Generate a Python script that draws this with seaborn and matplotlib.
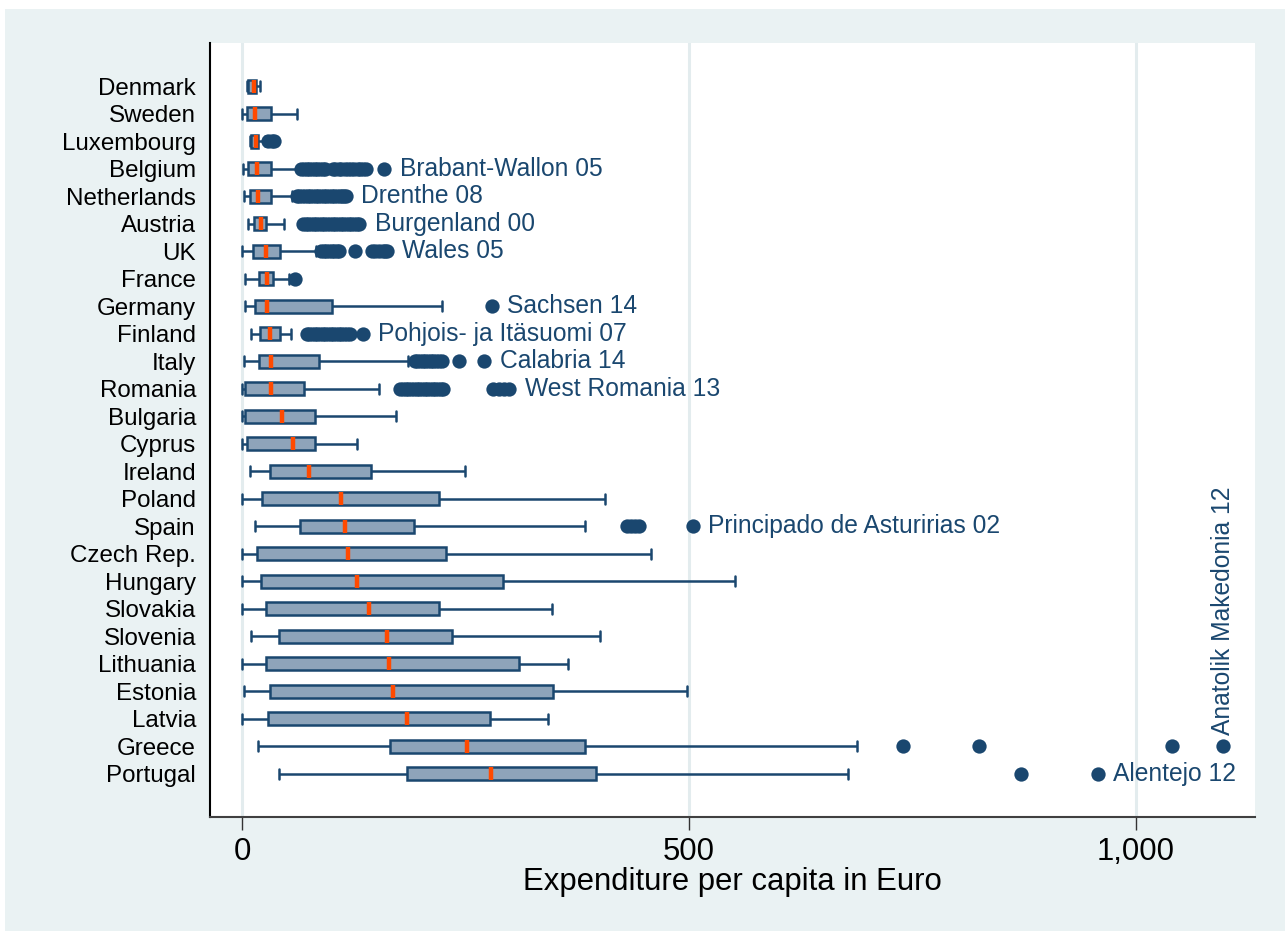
import numpy as np
import pandas as pd
import matplotlib
matplotlib.use("Agg")
import matplotlib.pyplot as plt
from matplotlib.patches import Rectangle
from matplotlib.ticker import FixedLocator, FixedFormatter
import seaborn as sns

# ---- data: regional expenditure per capita (Euro), by country ----
countries = ["Denmark", "Sweden", "Luxembourg", "Belgium", "Netherlands", "Austria",
             "UK", "France", "Germany", "Finland", "Italy", "Romania", "Bulgaria",
             "Cyprus", "Ireland", "Poland", "Spain", "Czech Rep.", "Hungary",
             "Slovakia", "Slovenia", "Lithuania", "Estonia", "Latvia", "Greece",
             "Portugal"]
whisker_lo = [5, 0, 9, 1, 2, 6, 0, 3, 3, 10, 2, 0, 0, 0, 9, 0, 14, 0, 0, 0, 10, 0, 2, 0, 18, 41]
q1 = [6, 5, 10, 6, 9, 13, 12, 19, 14, 20, 19, 3, 3, 5, 31, 22, 65, 16, 21, 27, 41, 26, 31, 29, 165, 184]
median = [13, 14, 15, 17, 18, 21, 27, 28, 28, 31, 32, 32, 44, 57, 75, 110, 115, 118, 128, 142, 162, 164, 169, 184, 252, 278]
q3 = [15, 32, 18, 32, 32, 26, 42, 34, 100, 42, 86, 69, 81, 81, 144, 220, 192, 228, 292, 220, 235, 310, 348, 277, 384, 396]
whisker_hi = [20, 61, 25, 64, 56, 47, 82, 52, 223, 55, 185, 153, 172, 128, 249, 406, 384, 457, 552, 347, 400, 364, 498, 342, 688, 678]

outliers = {
    "Luxembourg": [29, 33, 36],
    "Belgium": [66, 69, 72, 75, 78, 81, 84, 87, 90, 93, 101, 104, 108, 111, 115,
                118, 122, 125, 129, 132, 135, 138, 159],
    "Netherlands": [61, 64, 67, 70, 73, 76, 79, 82, 85, 88, 91, 94, 97, 100, 103,
                    106, 109, 112, 114, 116],
    "Austria": [68, 71, 74, 77, 80, 83, 86, 89, 92, 95, 98, 101, 104, 107, 110,
                113, 116, 119, 122, 125, 128, 131],
    "UK": [88, 91, 94, 97, 100, 103, 106, 108, 126, 145, 149, 153, 157, 160, 162],
    "France": [59],
    "Germany": [279],
    "Finland": [72, 75, 78, 81, 84, 87, 90, 93, 96, 99, 102, 105, 108, 111, 114,
                117, 120, 135],
    "Italy": [193, 196, 199, 202, 205, 208, 211, 214, 217, 220, 223, 243, 271],
    "Romania": [177, 180, 183, 186, 189, 192, 195, 198, 201, 204, 207, 210, 213,
                216, 219, 222, 225, 281, 287, 293, 299],
    "Spain": [431, 435, 440, 444, 504],
    "Greece": [739, 825, 1041, 1098],
    "Portugal": [872, 958],
}

label_country = ["Belgium", "Netherlands", "Austria", "UK", "Germany", "Finland",
                 "Italy", "Romania", "Spain", "Portugal"]
label_value = [159, 116, 131, 162, 279, 135, 271, 299, 504, 958]
label_text = ["Brabant-Wallon 05", "Drenthe 08", "Burgenland 00", "Wales 05",
              "Sachsen 14", "Pohjois- ja Itäsuomi 07", "Calabria 14",
              "West Romania 13", "Principado de Asturirias 02", "Alentejo 12"]
vlabel_country = "Greece"
vlabel_value = 1098
vlabel_text = "Anatolik Makedonia 12"

xtick_values = [0, 500, 1000]
xtick_labels = ["0", "500", "1,000"]
x_title = "Expenditure per capita in Euro"

# ---- styling ----
NAVY = "#1a476f"
BOX_FILL = "#8ea4ba"
MEDIAN = "#ff4a00"
BG = "#eaf2f3"
FS = 17.4      # category labels
FS_LAB = 17.7  # marker labels
FS_X = 22.4    # x tick labels and x title

sns.set_style("white")
plt.rcParams["font.family"] = ["Liberation Sans", "DejaVu Sans"]

# five-number summary per country, drawn as a box with whiskers at min / max
box_rows = []
for c, a, b, m, d, e in zip(countries, whisker_lo, q1, median, q3, whisker_hi):
    for v in (a, b, m, d, e):
        box_rows.append({"country": c, "value": v})
box_df = pd.DataFrame(box_rows)

out_rows = [{"country": c, "value": v} for c, vals in outliers.items() for v in vals]
out_df = pd.DataFrame(out_rows)

fig = plt.figure(figsize=(12.85, 9.31), dpi=100)
fig.patch.set_facecolor("white")
fig.patches.append(Rectangle((5 / 1285, 0), 1, 1 - 9 / 931, transform=fig.transFigure,
                             facecolor=BG, edgecolor="none", zorder=-10))
ax = fig.add_axes([209.6 / 1285, 1 - 817 / 931, (1255 - 209.6) / 1285, (817 - 43) / 931])
ax.set_facecolor("white")

sns.boxplot(data=box_df, x="value", y="country", order=countries, orient="h",
            whis=(0, 100), width=0.48, color=BOX_FILL, linecolor=NAVY,
            linewidth=1.8, fliersize=0, saturation=1, capwidths=0.37,
            medianprops=dict(color=MEDIAN, linewidth=3.2, solid_capstyle="butt"),
            ax=ax, zorder=3)

sns.stripplot(data=out_df, x="value", y="country", order=countries, orient="h",
              jitter=False, size=10.3, color=NAVY, linewidth=0, ax=ax, zorder=4)

pos = {c: i for i, c in enumerate(countries)}
for c, v, t in zip(label_country, label_value, label_text):
    ax.annotate(t, xy=(v, pos[c]), xytext=(11, 0), textcoords="offset points",
                ha="left", va="center", fontsize=FS_LAB, color=NAVY, zorder=5)
ax.annotate(vlabel_text, xy=(vlabel_value, pos[vlabel_country]), xytext=(0, 8),
            textcoords="offset points", ha="center", va="bottom", rotation=90,
            fontsize=FS_LAB, color=NAVY, zorder=5)

ax.set_xlim(-36.6, 1133.5)
ax.set_ylim(len(countries) - 1 + 1.57, -1.57)

ax.xaxis.set_major_locator(FixedLocator(xtick_values))
ax.xaxis.set_major_formatter(FixedFormatter(xtick_labels))
ax.grid(axis="x", color="#e3ecee", linewidth=2.2, zorder=0)
ax.grid(axis="y", visible=False)
ax.set_axisbelow(True)

ax.tick_params(axis="x", length=9.0, width=1.0, color="#333333", pad=5.5,
               labelsize=FS_X, labelcolor="black", bottom=True)
ax.tick_params(axis="y", length=0, pad=9.8, labelsize=FS, labelcolor="black")
ax.set_xlabel(x_title, fontsize=FS_X, color="black", labelpad=0)
ax.set_ylabel("")

for s in ("top", "right"):
    ax.spines[s].set_visible(False)
ax.spines["left"].set_color("black")
ax.spines["left"].set_linewidth(1.5)
ax.spines["bottom"].set_color("#404040")
ax.spines["bottom"].set_linewidth(1.5)

fig.savefig("out.png", dpi=100, facecolor=fig.get_facecolor())
